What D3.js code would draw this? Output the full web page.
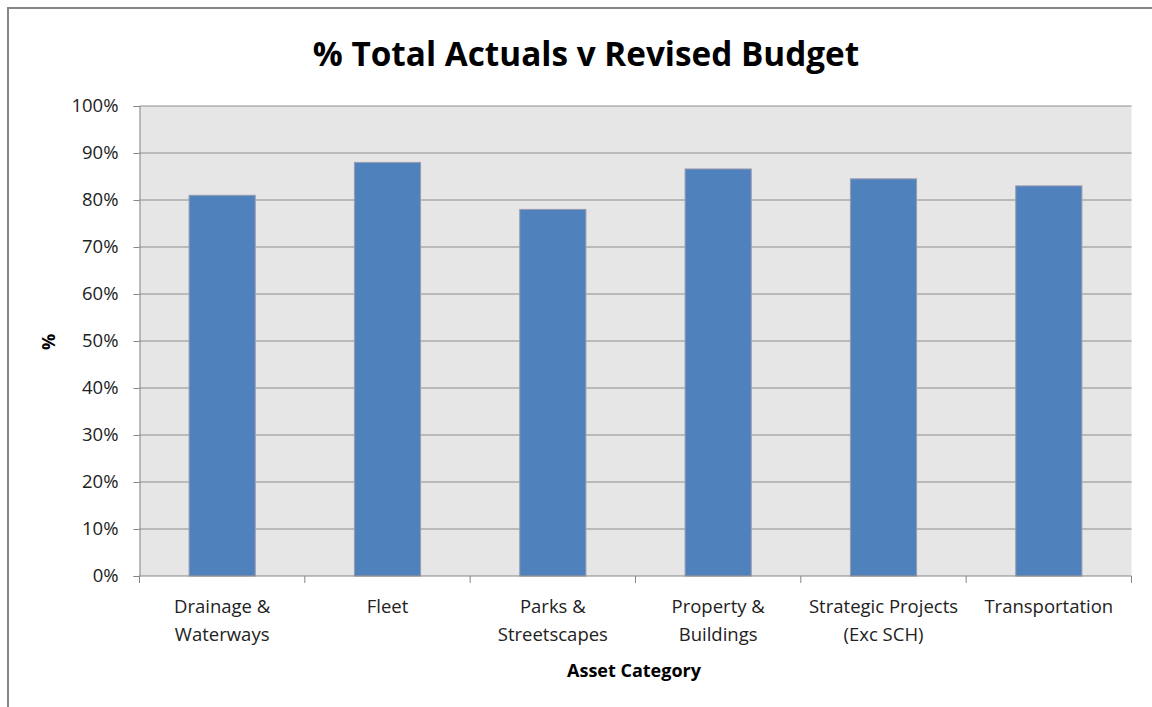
<!DOCTYPE html>
<html>
<head>
<meta charset="utf-8">
<script src="https://cdn.jsdelivr.net/npm/d3@7"></script>
<style>
  html, body { margin: 0; padding: 0; background: #fff; }
  svg { display: block; }
</style>
</head>
<body>
<svg id="chart" width="1152" height="707"></svg>
<script>
const categories = [
  ["Drainage &", "Waterways"],
  ["Fleet"],
  ["Parks &", "Streetscapes"],
  ["Property &", "Buildings"],
  ["Strategic Projects", "(Exc SCH)"],
  ["Transportation"]
];
const values = [0.81, 0.88, 0.78, 0.866, 0.845, 0.83];
const yTicks = [0, 0.1, 0.2, 0.3, 0.4, 0.5, 0.6, 0.7, 0.8, 0.9, 1.0];
const titleText = "% Total Actuals v Revised Budget";
const xTitle = "Asset Category";
const yTitle = "%";

const svg = d3.select("#chart");
const font = "'Open Sans', 'Liberation Sans', sans-serif";

// outer chart frame
svg.append("rect")
  .attr("x", 8).attr("y", 8).attr("width", 1200).attr("height", 760)
  .attr("fill", "none").attr("stroke", "#868686").attr("stroke-width", 2);

const m = { left: 139.5, right: 1131.5, top: 106, bottom: 576 };

const x = d3.scaleBand()
  .domain(categories.map((d, i) => i))
  .range([m.left, m.right])
  .paddingInner(0.6).paddingOuter(0.3);

const xEdge = d3.scaleLinear().domain([0, categories.length]).range([m.left, m.right]);

const y = d3.scaleLinear().domain([0, 1]).range([m.bottom, m.top]);

// plot background
svg.append("rect")
  .attr("x", m.left).attr("y", m.top)
  .attr("width", m.right - m.left).attr("height", m.bottom - m.top)
  .attr("fill", "#e6e6e6");

// gridlines
svg.append("g").selectAll("line")
  .data(yTicks.filter(d => d > 0))
  .join("line")
  .attr("x1", m.left).attr("x2", m.right)
  .attr("y1", d => y(d)).attr("y2", d => y(d))
  .attr("stroke", "#8c8c8c").attr("stroke-width", 1);

// bars
svg.append("g").selectAll("rect")
  .data(values)
  .join("rect")
  .attr("x", (d, i) => x(i))
  .attr("width", x.bandwidth())
  .attr("y", d => y(d))
  .attr("height", d => y(0) - y(d))
  .attr("fill", "#4f81bd")
  .attr("stroke", "#9a9ab0").attr("stroke-width", 1);

// y axis
const yAxis = d3.axisLeft(y).tickValues(yTicks).tickFormat(d3.format(".0%")).tickSize(6).tickPadding(15);
const gy = svg.append("g").attr("transform", `translate(${m.left},0)`).call(yAxis);
gy.select(".domain").attr("stroke", "#868686");
gy.selectAll(".tick line").attr("stroke", "#868686");
gy.selectAll(".tick text").attr("font-family", font).attr("font-size", 18.5).attr("fill", "#222");

// x axis line + ticks at category boundaries
svg.append("line")
  .attr("x1", m.left).attr("x2", m.right)
  .attr("y1", m.bottom).attr("y2", m.bottom)
  .attr("stroke", "#868686");
svg.append("g").selectAll("line")
  .data(d3.range(categories.length + 1))
  .join("line")
  .attr("x1", d => xEdge(d)).attr("x2", d => xEdge(d))
  .attr("y1", m.bottom).attr("y2", m.bottom + 7)
  .attr("stroke", "#868686");

// category labels
const lbl = svg.append("g").selectAll("text")
  .data(categories)
  .join("text")
  .attr("x", (d, i) => x(i) + x.bandwidth() / 2)
  .attr("y", 613)
  .attr("text-anchor", "middle")
  .attr("font-family", font).attr("font-size", 18.5).attr("fill", "#222");
lbl.selectAll("tspan")
  .data(d => d)
  .join("tspan")
  .attr("x", function() { return d3.select(this.parentNode).attr("x"); })
  .attr("dy", (d, i) => i === 0 ? 0 : 28)
  .text(d => d);

// title
svg.append("text")
  .attr("x", 586).attr("y", 66)
  .attr("text-anchor", "middle")
  .attr("font-family", font).attr("font-weight", "bold").attr("font-size", 33.3)
  .attr("fill", "#000")
  .text(titleText);

// x title
svg.append("text")
  .attr("x", 634).attr("y", 677)
  .attr("text-anchor", "middle")
  .attr("font-family", font).attr("font-weight", "bold").attr("font-size", 18)
  .attr("fill", "#000")
  .text(xTitle);

// y title
svg.append("text")
  .attr("transform", "translate(55,342) rotate(-90)")
  .attr("text-anchor", "middle")
  .attr("font-family", font).attr("font-weight", "bold").attr("font-size", 18)
  .attr("fill", "#000")
  .text(yTitle);
</script>
</body>
</html>
